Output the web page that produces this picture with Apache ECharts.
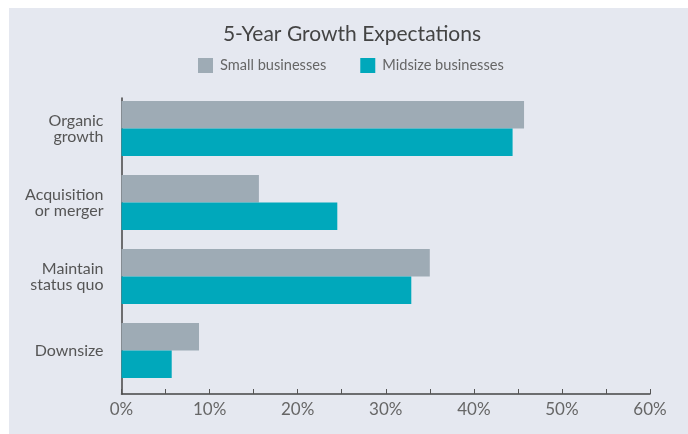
<!DOCTYPE html>
<html>
<head>
<meta charset="utf-8">
<script src="https://cdn.jsdelivr.net/npm/echarts@6/dist/echarts.min.js"></script>
<style>
  html, body { margin: 0; padding: 0; background: #ffffff; }
  #panel { position: absolute; left: 9px; top: 8px; width: 679px; height: 426px; background: #e5e8f0; }
  #chart { position: absolute; left: 0; top: 0; width: 688px; height: 434px; }
</style>
</head>
<body>
<div id="panel"></div>
<div id="chart"></div>
<script>
const categories = ['Organic\ngrowth', 'Acquisition\nor merger', 'Maintain\nstatus quo', 'Downsize'];
const smallBusinesses = [45.7, 15.6, 35.0, 8.8];
const midsizeBusinesses = [44.4, 24.5, 32.9, 5.7];
const xTicks = [0, 10, 20, 30, 40, 50, 60];

const FONT = 'Lato';
const chart = echarts.init(document.getElementById('chart'), null, { renderer: 'canvas' });
chart.setOption({
  backgroundColor: 'transparent',
  animation: false,
  title: {
    text: '5-Year Growth Expectations',
    left: 347, top: 19, textAlign: 'center',
    textStyle: { fontFamily: FONT, fontSize: 21, fontWeight: 'normal', color: '#444' }
  },
  legend: {
    data: ['Small businesses', 'Midsize businesses'],
    left: 198, top: 58, padding: 0,
    itemWidth: 15, itemHeight: 15, itemGap: 34,
    icon: 'rect',
    textStyle: { fontFamily: FONT, fontSize: 14.6, color: '#666', padding: [0, 0, 0, 2] }
  },
  grid: { left: 121.5, right: 38, top: 98, bottom: 40, containLabel: false },
  xAxis: {
    type: 'value', min: 0, max: 60, interval: 5,
    splitLine: { show: false },
    axisLine: { show: true, lineStyle: { color: '#444', width: 1.5 } },
    axisTick: { show: true, inside: true, length: 5, lineStyle: { color: '#555', width: 1 } },
    axisLabel: {
      fontFamily: FONT, fontSize: 17, color: '#666', margin: 7,
      formatter: v => (xTicks.indexOf(v) >= 0 ? v + '%' : '')
    }
  },
  yAxis: {
    type: 'category', data: categories, inverse: true,
    axisLine: { show: true, lineStyle: { color: '#444', width: 1.5 } },
    axisTick: { show: false },
    axisLabel: {
      margin: 18, align: 'right',
      formatter: v => '{t|' + v.split('\n').join('}\n{t|') + '}',
      rich: {
        t: { fontFamily: FONT, fontSize: 16, color: '#555', lineHeight: 16, align: 'right', padding: [0, 0, 12, 0] }
      }
    }
  },
  series: [
    { name: 'Small businesses', type: 'bar', data: smallBusinesses, barWidth: 27.5, barGap: '0%',
      itemStyle: { color: '#9eabb5' } },
    { name: 'Midsize businesses', type: 'bar', data: midsizeBusinesses, barWidth: 27.5, barGap: '0%',
      itemStyle: { color: '#00a8bb' } },
    { name: 'spacer', type: 'bar', data: [], barWidth: 13, barGap: '0%', silent: true }
  ]
});
</script>
</body>
</html>
